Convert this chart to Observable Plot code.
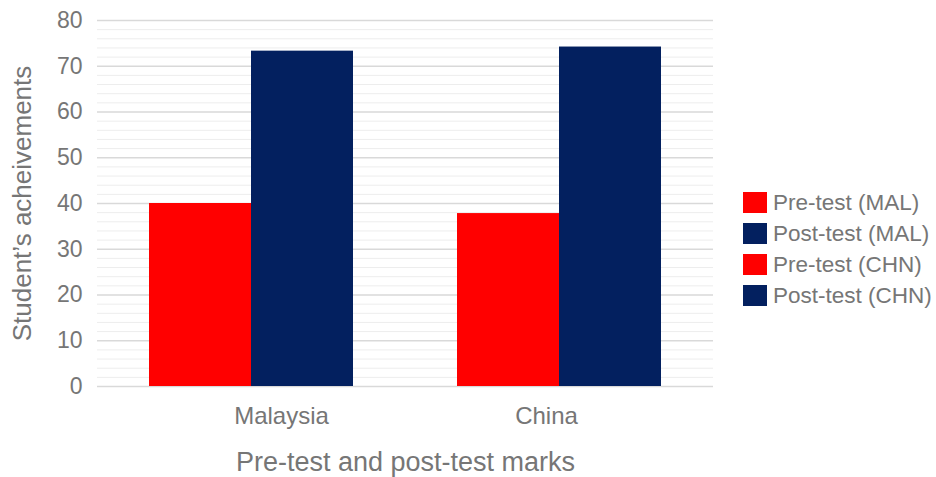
<!DOCTYPE html>
<html>
<head>
<meta charset="utf-8">
<script src="https://cdn.jsdelivr.net/npm/d3@7"></script>
<script src="https://cdn.jsdelivr.net/npm/@observablehq/plot@0.6"></script>
<style>
  body { margin: 0; background: #fff; }
  #wrap { position: relative; width: 936px; height: 477px; font-family: "Liberation Sans", Arial, sans-serif; }
  #legend { position: absolute; left: 743px; top: 187px; }
  .item { display: flex; align-items: center; height: 31px; color: #767676; font-size: 22.5px; }
  .sw { width: 24px; height: 21px; margin-right: 6px; }
</style>
</head>
<body>
<div id="wrap"><div id="legend"></div></div>
<script>
const countries = ["Malaysia", "China"];
const phases = ["Pre-test", "Post-test"];
const series = ["Pre-test (MAL)", "Post-test (MAL)", "Pre-test (CHN)", "Post-test (CHN)"];
const seriesCountry = ["Malaysia", "Malaysia", "China", "China"];
const seriesPhase = ["Pre-test", "Post-test", "Pre-test", "Post-test"];
const values = [40, 73.3, 37.8, 74.2];
const colors = ["#ff0000", "#03205f", "#ff0000", "#03205f"];
const majorTicks = [0, 10, 20, 30, 40, 50, 60, 70, 80];
const minorTicks = [2, 4, 6, 8, 12, 14, 16, 18, 22, 24, 26, 28, 32, 34, 36, 38, 42, 44, 46, 48, 52, 54, 56, 58, 62, 64, 66, 68, 72, 74, 76, 78];

const data = series.map((s, i) => ({series: s, country: seriesCountry[i], phase: seriesPhase[i], value: values[i]}));

// horizontal nudges of the category labels, as placed in the reference
const labelNudge = {Malaysia: 30, China: -13};

const chart = Plot.plot({
  width: 936,
  height: 477,
  marginLeft: 97,
  marginRight: 223,
  marginTop: 20,
  marginBottom: 91,
  style: {fontFamily: "'Liberation Sans', Arial, sans-serif", color: "#767676", background: "#fff"},
  fx: {domain: countries, padding: 0},
  x: {domain: phases, paddingInner: 0, paddingOuter: 0.5, axis: null},
  y: {domain: [0, 80]},
  color: {domain: series, range: colors},
  marks: [
    Plot.ruleY(minorTicks, {stroke: "#ededed", strokeWidth: 1}),
    Plot.ruleY(majorTicks, {stroke: "#d9d9d9", strokeWidth: 1.5}),
    Plot.barY(data, {fx: "country", x: "phase", y: "value", fill: "series"}),
    Plot.axisY({ticks: majorTicks, tickSize: 0, tickPadding: 15, fontSize: 23,
      label: null}),
    Plot.axisY({ticks: [], tickSize: 0, fontSize: 26,
      label: "Student\u2019s acheivements", labelAnchor: "center", labelOffset: 85, labelArrow: "none"}),
    Plot.axisFx({anchor: "bottom", tickSize: 0, tickFormat: () => "", fontSize: 27,
      label: "Pre-test and post-test marks", labelAnchor: "center", labelOffset: 84, labelArrow: "none"}),
    ...countries.map(c => Plot.text([c], {fx: d => d, text: d => d, frameAnchor: "bottom",
      dy: 30, dx: labelNudge[c], fontSize: 24, fill: "#767676", lineAnchor: "middle"}))
  ]
});
document.getElementById("wrap").prepend(chart);

const legend = document.getElementById("legend");
series.forEach((s, i) => {
  const row = document.createElement("div");
  row.className = "item";
  const sw = document.createElement("span");
  sw.className = "sw";
  sw.style.background = colors[i];
  const t = document.createElement("span");
  t.textContent = s;
  row.append(sw, t);
  legend.append(row);
});
</script>
</body>
</html>
